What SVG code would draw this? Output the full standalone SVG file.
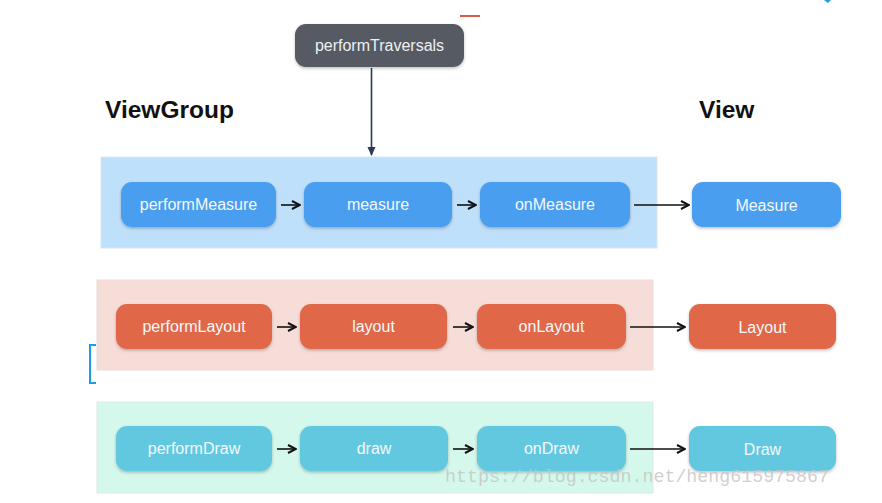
<svg xmlns="http://www.w3.org/2000/svg" width="882" height="503" viewBox="0 0 882 503">
<defs>
<marker id="ah" markerWidth="10" markerHeight="10" refX="9" refY="5" orient="auto" markerUnits="userSpaceOnUse">
<path d="M1,1 L9,5 L1,9" fill="none" stroke="#111" stroke-width="2"/>
</marker>
<marker id="ahd" markerWidth="10" markerHeight="10" refX="8" refY="5" orient="auto" markerUnits="userSpaceOnUse">
<path d="M0,1 L9,5 L0,9 Z" fill="#2b3a55"/>
</marker>
<filter id="sh" x="-10%" y="-20%" width="120%" height="150%">
<feDropShadow dx="0" dy="1.5" stdDeviation="1.5" flood-color="#000" flood-opacity="0.25"/>
</filter>
</defs>
<style>
.lbl{font-family:"Liberation Sans",Arial,sans-serif;font-size:16px;fill:#f4f8fc;text-anchor:middle;dominant-baseline:central}
.hdr{font-family:"Liberation Sans",Arial,sans-serif;font-size:24.5px;font-weight:bold;fill:#111}
.b{fill:#4a9ef0}
.r{fill:#e0684a}
.g{fill:#62c8e0}
.c{stroke:#111;stroke-width:1.6;fill:none;marker-end:url(#ah)}
.wm{font-family:"Liberation Mono","DejaVu Sans Mono",monospace;font-size:18.3px;fill:#c4c4c4;fill-opacity:0.8}
</style>
<rect width="882" height="503" fill="#fff"/>
<line x1="460" y1="16" x2="480" y2="16" stroke="#e05a4a" stroke-width="2"/>
<path d="M824,0 L828,3 L831,0 Z" fill="#1e9be6"/>
<path d="M96,345 L90,345 L90,383 L96,383" fill="none" stroke="#1e9be6" stroke-width="2"/>
<text class="hdr" x="105" y="118">ViewGroup</text>
<text class="hdr" x="699" y="118">View</text>
<g id="panel-measure"><rect x="101" y="157" width="556" height="91" fill="#bfe0fb" stroke="#d8e6f0" stroke-width="1"/></g>
<g id="panel-layout"><rect x="97" y="280" width="556" height="90" fill="#f7ddd8" stroke="#eadedb" stroke-width="1"/></g>
<g id="panel-draw"><rect x="97" y="402" width="556" height="91" fill="#d4f8ec" stroke="#dfe9e5" stroke-width="1"/></g>
<g id="performTraversals"><rect x="295" y="24" width="169" height="43" rx="11" fill="#555a63" filter="url(#sh)"/><text class="lbl" x="379.5" y="45.5" style="fill:#eef0f2">performTraversals</text></g>
<g id="performMeasure"><rect class="b" x="121" y="182" width="155" height="45" rx="11" filter="url(#sh)"/><text class="lbl" x="198.5" y="204.5">performMeasure</text></g>
<g id="measure"><rect class="b" x="304" y="182" width="148" height="45" rx="11" filter="url(#sh)"/><text class="lbl" x="378" y="204.5">measure</text></g>
<g id="onMeasure"><rect class="b" x="480" y="182" width="150" height="45" rx="11" filter="url(#sh)"/><text class="lbl" x="555" y="204.5">onMeasure</text></g>
<g id="Measure"><rect class="b" x="692" y="182" width="149" height="45" rx="11" filter="url(#sh)"/><text class="lbl" x="766.5" y="205">Measure</text></g>
<g id="performLayout"><rect class="r" x="116" y="304" width="156" height="45" rx="11" filter="url(#sh)"/><text class="lbl" x="194" y="326.5">performLayout</text></g>
<g id="layout"><rect class="r" x="300" y="304" width="147" height="45" rx="11" filter="url(#sh)"/><text class="lbl" x="373.5" y="326.5">layout</text></g>
<g id="onLayout"><rect class="r" x="477" y="304" width="149" height="45" rx="11" filter="url(#sh)"/><text class="lbl" x="551.5" y="326.5">onLayout</text></g>
<g id="Layout"><rect class="r" x="689" y="304" width="147" height="45" rx="11" filter="url(#sh)"/><text class="lbl" x="762.5" y="327">Layout</text></g>
<g id="performDraw"><rect class="g" x="116" y="426" width="156" height="45" rx="11" filter="url(#sh)"/><text class="lbl" x="194" y="448.5">performDraw</text></g>
<g id="draw"><rect class="g" x="300" y="426" width="148" height="45" rx="11" filter="url(#sh)"/><text class="lbl" x="374" y="448.5">draw</text></g>
<g id="onDraw"><rect class="g" x="477" y="426" width="149" height="45" rx="11" filter="url(#sh)"/><text class="lbl" x="551.5" y="448.5">onDraw</text></g>
<g id="Draw"><rect class="g" x="689" y="426" width="147" height="45" rx="11" filter="url(#sh)"/><text class="lbl" x="762.5" y="449">Draw</text></g>
<g id="connectors">
<line x1="371.5" y1="68" x2="371.5" y2="155" stroke="#2b3a55" stroke-width="1.6" marker-end="url(#ahd)"/>
<line class="c" x1="281" y1="205" x2="300" y2="205"/>
<line class="c" x1="457" y1="205" x2="476" y2="205"/>
<line class="c" x1="634" y1="205" x2="689" y2="205"/>
<line class="c" x1="277" y1="327" x2="296" y2="327"/>
<line class="c" x1="453" y1="327" x2="473" y2="327"/>
<line class="c" x1="630" y1="327" x2="685" y2="327"/>
<line class="c" x1="277" y1="449" x2="296" y2="449"/>
<line class="c" x1="453" y1="449" x2="473" y2="449"/>
<line class="c" x1="630" y1="449" x2="685" y2="449"/>
</g>
<text class="wm" x="445" y="482">https://blog.csdn.net/heng615975867</text>
</svg>
